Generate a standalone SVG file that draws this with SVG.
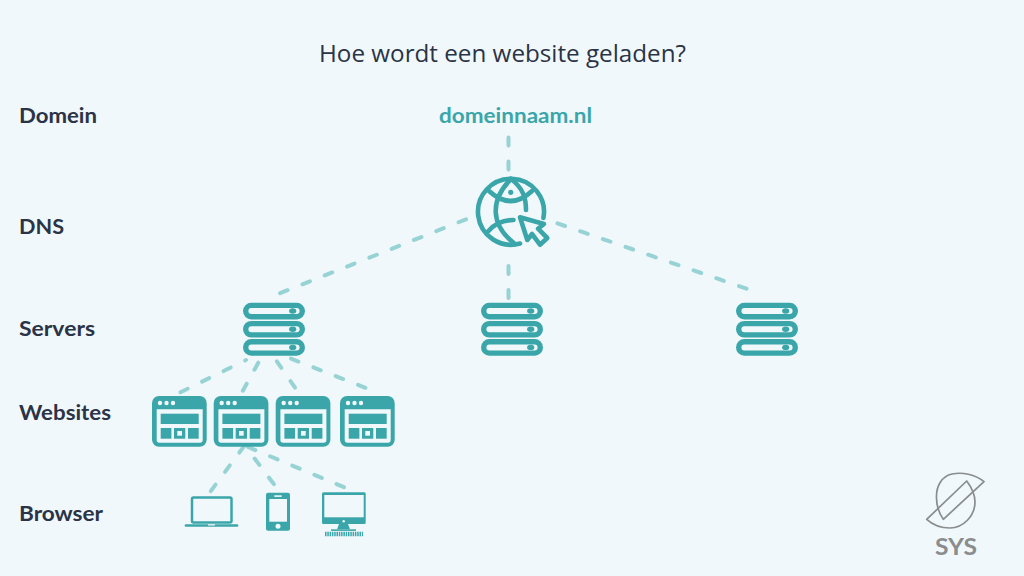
<svg xmlns="http://www.w3.org/2000/svg" xmlns:xlink="http://www.w3.org/1999/xlink" width="1024" height="576" viewBox="0 0 1024 576">
<style>
.bg{fill:#f0f8fb}
.lbl{font-family:"Lato","Open Sans",sans-serif;font-weight:700;font-size:21px;fill:#2b3347}
.ttl{font-family:"Open Sans","Noto Sans",sans-serif;font-weight:400;font-size:23px;fill:#2b3347}
.dom{font-family:"Lato","Open Sans",sans-serif;font-weight:700;font-size:21.5px;fill:#3aa6aa}
.dash{fill:none;stroke:#97d3d5;stroke-width:4;stroke-linecap:round;stroke-dasharray:8 16}
.t{fill:#3aa6aa}
.h{fill:#f0f8fb}
.gl{fill:none;stroke:#3aa6aa;stroke-width:4.6;stroke-linecap:round;stroke-linejoin:round}
.logo{fill:none;stroke:#8a8d8d;stroke-width:1.7;stroke-linejoin:round}
</style>
<defs>
<g id="server">
<rect x="2.7" y="2.7" width="56.6" height="11.3" rx="5.65" fill="#f0f8fb" stroke="#3aa6aa" stroke-width="5.4"/>
<ellipse cx="49.7" cy="8.3" rx="3.6" ry="2.7" class="t"/>
</g>
<g id="srv">
<use xlink:href="#server" href="#server" y="0"/>
<use xlink:href="#server" href="#server" y="18.2"/>
<use xlink:href="#server" href="#server" y="36.4"/>
</g>
<g id="win">
<rect x="0" y="0" width="54.7" height="50.7" rx="7" class="t"/>
<circle cx="8" cy="7" r="2.2" class="h"/><circle cx="14.5" cy="7" r="2.2" class="h"/><circle cx="21" cy="7" r="2.2" class="h"/>
<path d="M4.7 13.3H50.7V44a2.7 2.7 0 0 1-2.7 2.7H7.4a2.7 2.7 0 0 1-2.7-2.7Z" class="h"/>
<rect x="8.7" y="17.7" width="38" height="10.3" class="t"/>
<rect x="8.7" y="32" width="10.7" height="10.7" class="t"/>
<rect x="22" y="32" width="11.3" height="10.7" class="t"/>
<rect x="25.3" y="35" width="4.7" height="4.7" class="h"/>
<rect x="36" y="32" width="10.7" height="10.7" class="t"/>
</g>
</defs>
<rect class="bg" width="1024" height="576"/>
<g id="connectors">
<path class="dash" d="M508.5 137.5V170"/>
<path class="dash" d="M466 219.3L278 294"/>
<path class="dash" d="M557.5 223.4L747.5 289"/>
<path class="dash" d="M508.5 266V300"/>
<path class="dash" style="stroke-dashoffset:7" d="M246 360L179 393"/>
<path class="dash" d="M258.3 362.7L241 394"/>
<path class="dash" d="M276.8 361.4L296 389"/>
<path class="dash" d="M291 358.6L366 388"/>
<path class="dash" d="M244.1 446.1L210.5 491.5"/>
<path class="dash" d="M254.6 458.5L274 484.3"/>
<path class="dash" d="M248 447L345 487.6"/>
</g>
<text class="ttl" x="319" y="61.5" textLength="367" lengthAdjust="spacingAndGlyphs">Hoe wordt een website geladen?</text>
<text class="lbl" x="19" y="122.8" textLength="78" lengthAdjust="spacingAndGlyphs">Domein</text>
<text class="lbl" x="19" y="233.5" textLength="45" lengthAdjust="spacingAndGlyphs">DNS</text>
<text class="lbl" x="19" y="336.3" textLength="76" lengthAdjust="spacingAndGlyphs">Servers</text>
<text class="lbl" x="19" y="420.3" textLength="92" lengthAdjust="spacingAndGlyphs">Websites</text>
<text class="lbl" x="19" y="521.3" textLength="84" lengthAdjust="spacingAndGlyphs">Browser</text>
<g id="domain"><text class="dom" x="439" y="122.9" textLength="153" lengthAdjust="spacingAndGlyphs">domeinnaam.nl</text></g>
<g id="dns" class="gl">
<path d="M543.4 217.9A33 33 0 1 0 520 243.5"/>
<path d="M511 179C490 200 490 225 515 244"/>
<path d="M511 179C523 188 526 198 526 210"/>
<path d="M489 191Q510.7 211 532 191"/>
<path d="M488.5 231Q498 220 513.5 220"/>
<path d="M520 217.3L527.3 240L532 234L540 244.7L547.3 238L538 228.7L544 224Z"/>
<circle cx="510.7" cy="192.3" r="2.6" fill="#3aa6aa" stroke="none"/>
</g>
<g id="server-1"><use xlink:href="#srv" href="#srv" x="243" y="302.7"/></g>
<g id="server-2"><use xlink:href="#srv" href="#srv" x="481" y="302.7"/></g>
<g id="server-3"><use xlink:href="#srv" href="#srv" x="736" y="302.7"/></g>
<g id="website-1"><use xlink:href="#win" href="#win" x="152" y="396"/></g>
<g id="website-2"><use xlink:href="#win" href="#win" x="213.7" y="396"/></g>
<g id="website-3"><use xlink:href="#win" href="#win" x="275.7" y="396"/></g>
<g id="website-4"><use xlink:href="#win" href="#win" x="340" y="396"/></g>
<g id="laptop">
<rect x="192" y="497.5" width="39.5" height="25" rx="1.5" fill="none" stroke="#3aa6aa" stroke-width="2.5"/>
<rect x="184.7" y="524.2" width="53.6" height="2.6" rx="1.2" class="t"/>
<rect x="208" y="524.2" width="7" height="1.3" class="h"/>
</g>
<g id="phone">
<rect x="266" y="492.7" width="24" height="38" rx="2" class="t"/>
<rect x="269.3" y="499" width="17.7" height="22.7" class="h"/>
<rect x="274.3" y="495.3" width="7.4" height="1.6" class="h"/>
<circle cx="278" cy="526.3" r="2.5" class="h"/>
</g>
<g id="desktop">
<rect x="322" y="492.3" width="43.7" height="31.7" rx="1.5" class="t"/>
<rect x="324.3" y="495" width="39.4" height="22.3" class="h"/>
<circle cx="343.7" cy="521.3" r="1.2" class="h"/>
<path d="M339 524H348L350 529.3H337Z" class="t"/>
<rect x="331" y="529.3" width="25" height="1.6" class="t"/>
<path d="M325 534H363" fill="none" stroke="#3aa6aa" stroke-width="4.5" stroke-dasharray="1.5 0.8"/>
</g>
<g id="logo">
<path class="logo" d="M984 481.7C975 474 962 472 952 474C942 476 936 486 936.5 498C936.5 506 939 513 943.3 519.3Z"/>
<path class="logo" d="M926.7 519.3L966.7 481C972 488 975 495 975 502C975 516 963 528 950 528C941 528 933 525 926.7 519.3Z"/>
<text x="935" y="555" textLength="42" lengthAdjust="spacingAndGlyphs" style="font-family:'Lato','Open Sans',sans-serif;font-weight:700;font-size:23px;fill:#8a8d8d">SYS</text>
</g>
</svg>
